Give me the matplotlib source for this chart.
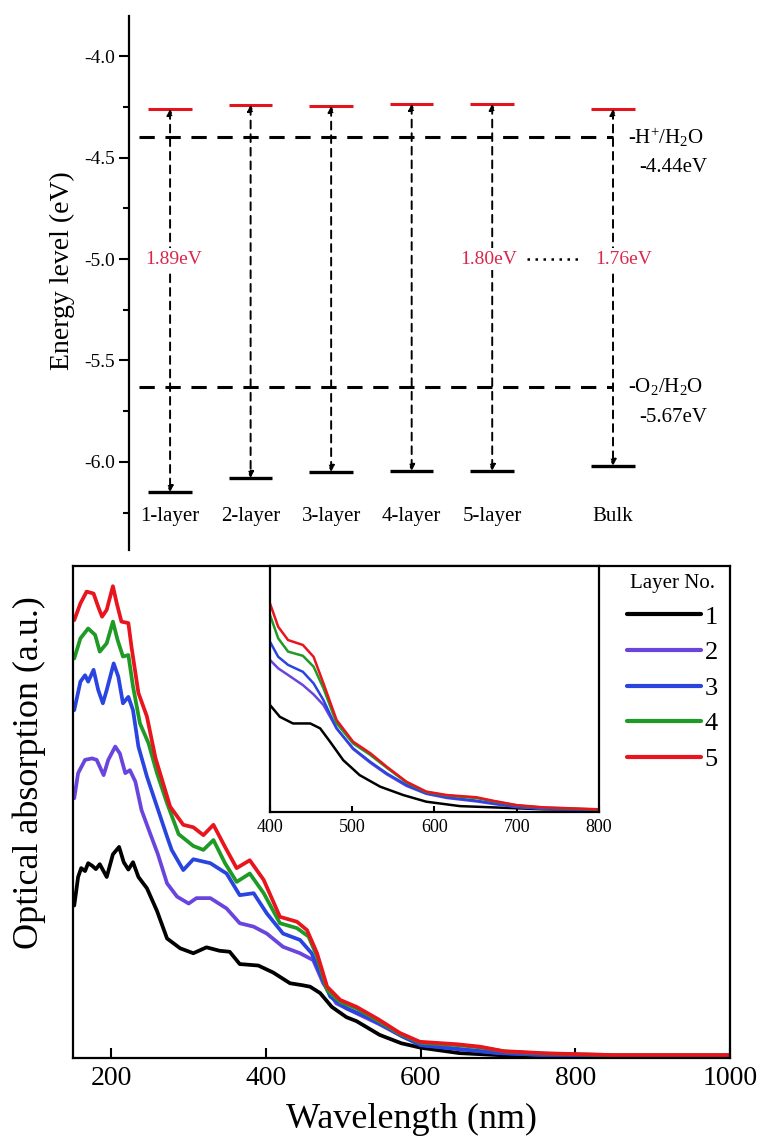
import numpy as np
import matplotlib.pyplot as plt
from matplotlib.ticker import MultipleLocator

plt.rcParams['font.family'] = ['Liberation Serif', 'DejaVu Serif']
plt.rcParams['mathtext.fontset'] = 'custom'
plt.rcParams['mathtext.rm'] = 'Liberation Serif'
plt.rcParams['mathtext.it'] = 'Liberation Serif:italic'
plt.rcParams['axes.unicode_minus'] = False

# ---------------- top panel: band edges (eV) ----------------
layers = ['1-layer', '2-layer', '3-layer', '4-layer', '5-layer', 'Bulk']
layer_pos = [1, 2, 3, 4, 5, 6.5]
cb_edge = [-4.26, -4.24, -4.245, -4.235, -4.235, -4.26]
vb_edge = [-6.15, -6.08, -6.05, -6.045, -6.045, -6.02]
gap_text = ['1.89eV', None, None, None, '1.80eV', '1.76eV']
gap_shift = [0.04, 0, 0, 0, -0.05, 0.13]
redox_drawn = [-4.40, -5.63]
redox_names = ['-H$^{+}$/H$_{2}$O', '-O$_{2}$/H$_{2}$O']
redox_values = ['-4.44eV', '-5.67eV']

# ---------------- bottom panel: optical absorption (a.u.) ----------------
layer_no = ['1', '2', '3', '4', '5']
colors = ['#000000', '#6a45dd', '#2a44e0', '#1f9a25', '#e8141e']

wl_1 = [152, 157, 161, 166, 170, 175, 180, 185, 194, 202, 210, 216, 222, 228, 235, 246, 259, 272,
        289, 306, 323, 340, 353, 366, 390, 409, 431, 447, 457, 470, 485, 504, 517, 547, 575, 600,
        650, 700, 800, 1000]
abs_1 = [31.0, 36.8, 38.6, 38.0, 39.6, 39.1, 38.4, 39.4, 36.8, 41.4, 42.9, 39.8, 38.3, 39.8, 36.8,
         34.5, 29.9, 24.3, 22.3, 21.3, 22.5, 21.8, 21.6, 19.1, 18.8, 17.4, 15.2, 14.8, 14.5, 13.2,
         10.4, 8.3, 7.5, 4.7, 3.0, 2.1, 1.0, 0.6, 0.4, 0.4]

wl_2 = [152, 157, 166, 175, 181, 190, 196, 205, 211, 218, 224, 231, 239, 250, 260, 272, 285, 300,
        310, 328, 349, 366, 384, 401, 422, 444, 461, 474, 491, 517, 545, 575, 600, 650, 700, 760,
        850, 1000]
abs_2 = [52.8, 57.9, 60.6, 60.9, 60.6, 57.5, 60.6, 63.3, 61.9, 57.9, 58.5, 56.2, 50.4, 45.7, 41.5,
         35.5, 32.8, 31.4, 32.5, 32.5, 30.4, 27.4, 26.7, 25.3, 22.6, 21.3, 19.9, 15.2, 11.1, 9.1,
         7.0, 4.5, 2.7, 1.8, 1.1, 0.6, 0.4, 0.4]

wl_3 = [152, 160, 166, 170, 177, 183, 189, 194, 203, 209, 215, 222, 228, 235, 246, 259, 272, 278,
        293, 306, 328, 349, 366, 384, 401, 422, 444, 459, 470, 483, 504, 530, 550, 575, 600, 650,
        700, 760, 850, 1000]
abs_3 = [70.7, 76.5, 77.8, 76.5, 78.9, 74.8, 72.1, 74.8, 80.2, 77.5, 72.1, 73.4, 70.7, 63.3, 57.2,
         51.1, 45.0, 42.3, 38.2, 40.4, 39.6, 37.5, 33.1, 33.5, 29.4, 25.3, 24.0, 21.3, 17.2, 12.5,
         10.1, 8.4, 6.8, 4.5, 2.6, 1.8, 1.0, 0.6, 0.4, 0.4]

wl_4 = [152, 160, 170, 179, 185, 194, 202, 208, 215, 222, 228, 237, 248, 259, 272, 287, 306, 319,
        332, 347, 362, 379, 397, 418, 440, 455, 466, 479, 496, 517, 547, 573, 600, 650, 680, 710,
        760, 850, 1000]
abs_4 = [81.2, 85.3, 87.3, 86.0, 82.6, 84.3, 88.7, 85.0, 81.6, 81.9, 75.5, 68.0, 64.0, 57.9, 51.8,
         45.5, 43.1, 42.3, 44.3, 39.6, 35.8, 37.5, 33.5, 27.4, 26.4, 24.7, 20.6, 13.8, 11.4, 10.1,
         7.4, 4.9, 3.1, 2.6, 2.1, 1.3, 0.9, 0.6, 0.6]

wl_5 = [152, 160, 168, 177, 183, 188, 194, 202, 207, 213, 222, 226, 235, 246, 257, 267, 276, 293,
        306, 319, 332, 347, 362, 379, 397, 418, 440, 453, 466, 479, 496, 517, 545, 573, 599, 647,
        677, 707, 763, 850, 1000]
abs_5 = [89.0, 92.4, 94.8, 94.4, 91.7, 89.7, 91.1, 95.9, 92.4, 88.7, 88.4, 83.6, 74.2, 69.4, 61.0,
         55.8, 51.1, 47.4, 46.9, 45.3, 47.4, 42.9, 38.6, 40.2, 36.2, 28.7, 27.7, 26.0, 21.3, 14.5,
         11.8, 10.4, 7.9, 5.1, 3.3, 2.8, 2.3, 1.4, 0.95, 0.6, 0.6]

# inset (400-800 nm)
wl_in_1 = [400, 412, 428, 449, 461, 473, 489, 509, 534, 562, 590, 631, 671, 732, 800]
in_1 = [43.5, 38.7, 36.0, 36.0, 34.0, 28.6, 21.1, 15.0, 10.3, 6.9, 4.2, 2.4, 1.9, 1.1, 0.8]
wl_in = [400, 410, 422, 440, 453, 465, 481, 501, 522, 542, 566, 590, 615, 651, 671, 700, 732, 800]
in_2 = [61.8, 58.4, 55.7, 51.6, 47.8, 43.5, 34.0, 25.6, 20.0, 15.3, 10.6, 7.4, 5.7, 4.3, 3.3, 2.0, 1.3, 0.8]
in_3 = [69.2, 63.1, 59.8, 57.0, 52.3, 45.5, 34.0, 25.9, 20.4, 15.7, 11.0, 7.6, 6.0, 4.6, 3.6, 2.2, 1.4, 0.8]
in_4 = [80.1, 70.6, 65.2, 63.5, 59.1, 50.3, 36.1, 27.9, 23.2, 18.0, 12.0, 8.1, 6.7, 5.7, 4.4, 2.7, 1.8, 1.0]
in_5 = [84.8, 75.3, 69.9, 67.9, 63.1, 52.3, 37.4, 28.6, 23.9, 18.4, 12.3, 8.3, 6.9, 6.0, 4.6, 2.8, 1.9, 1.1]

main_series = [(wl_1, abs_1), (wl_2, abs_2), (wl_3, abs_3), (wl_4, abs_4), (wl_5, abs_5)]
inset_series = [(wl_in_1, in_1), (wl_in, in_2), (wl_in, in_3), (wl_in, in_4), (wl_in, in_5)]

red = '#e3141e'
gap_red = '#d9264a'

fig = plt.figure(figsize=(7.62, 11.4), dpi=100)

# ================= energy level diagram =================
ax_e = fig.add_axes([0.1693, 0.5175, 0.8307, 0.4688])
ax_e.set_xlim(0.49, 8.35)
ax_e.set_ylim(-6.435, -3.80)
for s in ['top', 'right', 'bottom']:
    ax_e.spines[s].set_visible(False)
ax_e.spines['left'].set_linewidth(1.6)
ax_e.set_xticks([])
ax_e.yaxis.set_minor_locator(MultipleLocator(0.25))
ax_e.set_yticks(np.arange(-6.0, -3.99, 0.5))
ax_e.yaxis.set_major_formatter(plt.FormatStrFormatter('%.1f'))
ax_e.tick_params(axis='y', which='major', direction='out', length=7, width=1.5, labelsize=14, pad=3)
ax_e.tick_params(axis='y', which='minor', direction='out', length=4, width=1.5)

half = 0.27
for lvl in redox_drawn:
    ax_e.hlines(lvl, 0.615, layer_pos[-1], colors='k', lw=2.2, linestyles=(0, (5, 3.5)), zorder=2)

for x, c, v in zip(layer_pos, cb_edge, vb_edge):
    ax_e.hlines(c, x - half, x + half, colors=red, lw=2.2, zorder=3)
    ax_e.hlines(v, x - half, x + half, colors='k', lw=2.4, zorder=3)
    ax_e.annotate('', xy=(x, v), xytext=(x, c),
                  arrowprops=dict(arrowstyle='<|-|>', linestyle=(0, (4, 3)), lw=1.4, color='k',
                                  shrinkA=0, shrinkB=0, mutation_scale=9), zorder=4)

for x, name in zip(layer_pos, layers):
    ax_e.text(x, -6.27, name, ha='center', va='center', fontsize=15)

for x, txt, dx in zip(layer_pos, gap_text, gap_shift):
    if txt:
        ax_e.text(x + dx, -5.0, txt, ha='center', va='center', fontsize=14, color=gap_red,
                  bbox=dict(facecolor='white', edgecolor='none', pad=1.5), zorder=6)
ax_e.plot([layer_pos[4] + 0.43, layer_pos[5] - 0.41], [-5.0, -5.0], ls=(0, (1, 2.2)),
          color='k', lw=1.8, zorder=5)

for lvl, name, val in zip(redox_drawn, redox_names, redox_values):
    ax_e.text(layer_pos[-1] + 0.19, lvl, name, ha='left', va='center', fontsize=15)
    ax_e.text(layer_pos[-1] + 0.33, lvl - 0.15, val, ha='left', va='center', fontsize=15)

fig.text(62 / 762, 1 - 271 / 1140, 'Energy level (eV)', rotation=90, ha='center', va='center',
         fontsize=20)

# ================= absorption spectra =================
ax = fig.add_axes([0.0954, 0.0719, 0.8626, 0.4316])
ax.set_xlim(150, 1000)
ax.set_ylim(0, 100)
ax.set_yticks([])
ax.set_xticks([200, 400, 600, 800, 1000])
ax.tick_params(axis='x', direction='in', length=7, width=1.5, labelsize=20, pad=6)
for s in ax.spines.values():
    s.set_linewidth(1.6)

handles = []
for (wl, a), col in zip(main_series, colors):
    h, = ax.plot(wl, a, color=col, lw=2.7, solid_joinstyle='round', solid_capstyle='round')
    handles.append(h)

fig.text(411 / 762, 1 - 1119 / 1140, 'Wavelength (nm)', ha='center', va='center', fontsize=26)
fig.text(29 / 762, 1 - 773 / 1140, 'Optical absorption (a.u.)', rotation=90, ha='center',
         va='center', fontsize=26)

leg = ax.legend(handles, layer_no, title='Layer No.', loc='upper left',
                bbox_to_anchor=(627 / 762, 1 - 574 / 1140), bbox_transform=fig.transFigure,
                frameon=False, fontsize=19, title_fontsize=15, handlelength=2.8,
                handletextpad=0.15, labelspacing=0.46, borderpad=0, borderaxespad=0)
for ln in leg.get_lines():
    ln.set_linewidth(3)

# inset
ax_in = fig.add_axes([0.3543, 0.2877, 0.4318, 0.2158])
ax_in.set_xlim(400, 800)
ax_in.set_ylim(0, 100)
ax_in.set_yticks([])
ax_in.set_xticks([400, 500, 600, 700, 800])
ax_in.tick_params(axis='x', direction='in', length=4, width=1.5, labelsize=13, pad=5)
for s in ax_in.spines.values():
    s.set_linewidth(1.6)
for (wl, a), col in zip(inset_series, colors):
    ax_in.plot(wl, a, color=col, lw=1.8, solid_joinstyle='round')

fig.savefig('out.png', dpi=100)
